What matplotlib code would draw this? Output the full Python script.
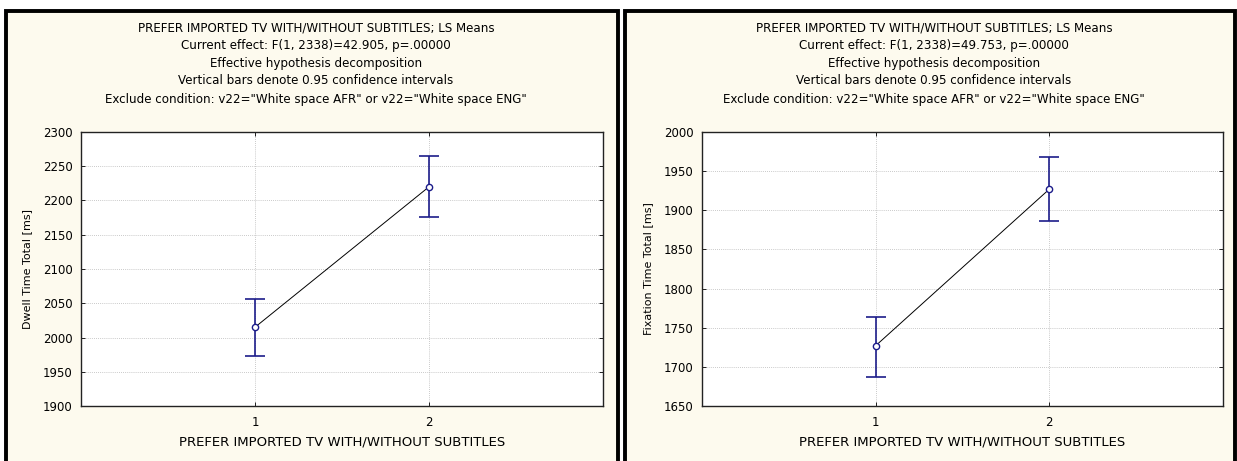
import matplotlib
matplotlib.use("Agg")
import matplotlib.pyplot as plt
from matplotlib.patches import Rectangle

plt.rcParams['font.family'] = ['DejaVu Sans']

# LS means with 0.95 confidence intervals
groups = [1, 2]
dwell_mean = [2015, 2220]
dwell_low = [1973, 2176]
dwell_high = [2056, 2265]
fix_mean = [1727, 1927]
fix_low = [1687, 1886]
fix_high = [1764, 1968]

title_lines_left = ["PREFER IMPORTED TV WITH/WITHOUT SUBTITLES; LS Means",
                    "Current effect: F(1, 2338)=42.905, p=.00000",
                    "Effective hypothesis decomposition",
                    "Vertical bars denote 0.95 confidence intervals",
                    "Exclude condition: v22=\"White space AFR\" or v22=\"White space ENG\""]
title_lines_right = list(title_lines_left)
title_lines_right[1] = "Current effect: F(1, 2338)=49.753, p=.00000"

W, H = 1237, 461
fig = plt.figure(figsize=(W / 100, H / 100), dpi=100, facecolor="white")

cream = "#fdfaee"
navy = "#1c1c8a"

def px_rect(x0, y0, x1, y1):
    # pixel box (top-left origin) -> figure fraction [l, b, w, h]
    return [x0 / W, 1 - y1 / H, (x1 - x0) / W, (y1 - y0) / H]


def panel(px0, px1, ax_box, mean, low, high, ylim, yticks, ylabel, titles):
    l, b, w, h = px_rect(px0, 11, px1, H + 5)
    fig.patches.append(Rectangle((l, b), w, h, transform=fig.transFigure,
                                 facecolor=cream, edgecolor="black", lw=2.8, zorder=-1))
    ax = fig.add_axes(px_rect(*ax_box))
    ax.set_facecolor("white")
    err = [[m - lo for m, lo in zip(mean, low)], [hi - m for m, hi in zip(mean, high)]]
    ax.plot(groups, mean, color="black", lw=0.7, zorder=3)
    ax.errorbar(groups, mean, yerr=err, fmt="none", ecolor=navy, elinewidth=1.2,
                capsize=7, capthick=1.2, zorder=4)
    ax.plot(groups, mean, "o", ms=4.5, mfc="white", mec=navy, mew=1.0, zorder=5)
    ax.set_xlim(0, 3)
    ax.set_ylim(*ylim)
    ax.set_xticks(groups)
    ax.set_yticks(yticks)
    ax.grid(True, color="#b8b8b8", ls=(0, (1, 1.5)), lw=0.6)
    ax.tick_params(labelsize=8.5, direction="in", length=3, width=0.6,
                   top=True, right=True)
    ax.tick_params(axis="y", pad=6)
    ax.tick_params(axis="x", pad=7)
    for s in ax.spines.values():
        s.set_linewidth(1.0)
        s.set_color("#222222")
    ax.set_ylabel(ylabel, fontsize=8, labelpad=8)
    ax.set_xlabel("PREFER IMPORTED TV WITH/WITHOUT SUBTITLES", fontsize=9.5, labelpad=5)
    cx = ((px0 + px1) / 2 + 4) / W
    for t, y in zip(titles, [28, 46, 64, 81, 99]):
        fig.text(cx, 1 - y / H, t, ha="center", va="center", fontsize=8.6)
    return ax


ax1 = panel(6, 618, (81, 132, 603, 406), dwell_mean, dwell_low, dwell_high,
            (1900, 2300), range(1900, 2301, 50), "Dwell Time Total [ms]", title_lines_left)
ax2 = panel(625, 1235, (702, 132, 1223, 406), fix_mean, fix_low, fix_high,
            (1650, 2000), range(1650, 2001, 50), "Fixation Time Total [ms]", title_lines_right)

fig.savefig("out.png", dpi=100, facecolor="white")
